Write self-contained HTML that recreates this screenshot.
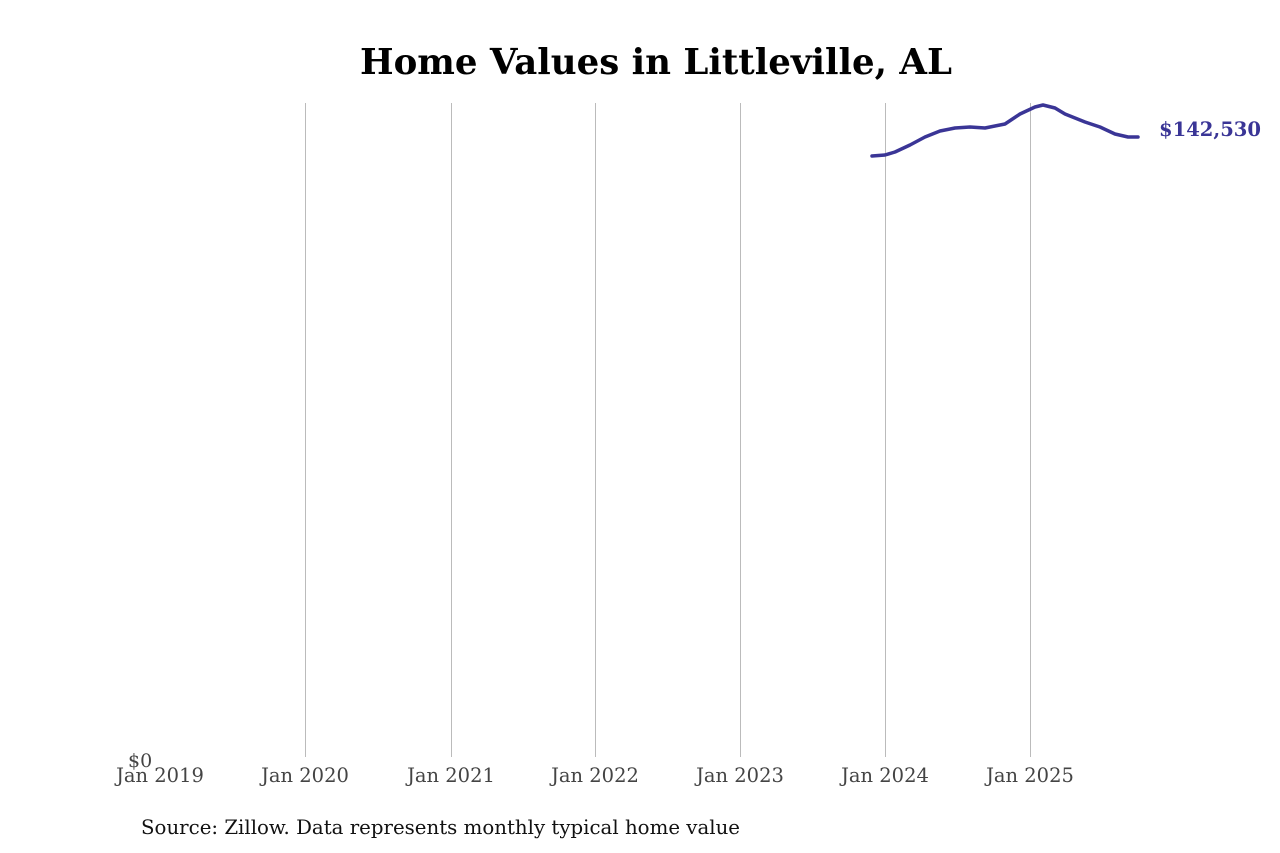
<!DOCTYPE html>
<html><head><meta charset="utf-8"><style>
body{margin:0;background:#fff;}
svg{display:block;}
</style></head><body>
<svg width="1280" height="853" xmlns="http://www.w3.org/2000/svg" font-family="DejaVu Serif, Liberation Serif, serif">
<text x="656" y="74" text-anchor="middle" font-size="35.5" font-weight="bold" fill="#000" textLength="592" lengthAdjust="spacingAndGlyphs">Home Values in Littleville, AL</text>
<g stroke="#bbb" stroke-width="1">
<line x1="305.5" y1="103" x2="305.5" y2="757"/>
<line x1="451.5" y1="103" x2="451.5" y2="757"/>
<line x1="595.5" y1="103" x2="595.5" y2="757"/>
<line x1="740.5" y1="103" x2="740.5" y2="757"/>
<line x1="885.5" y1="103" x2="885.5" y2="757"/>
<line x1="1030.5" y1="103" x2="1030.5" y2="757"/>
</g>
<g font-size="19.5" fill="#444" text-anchor="middle">
<text x="160" y="782">Jan 2019</text>
<text x="305" y="782">Jan 2020</text>
<text x="451" y="782">Jan 2021</text>
<text x="595" y="782">Jan 2022</text>
<text x="740" y="782">Jan 2023</text>
<text x="885" y="782">Jan 2024</text>
<text x="1030" y="782">Jan 2025</text>
</g>
<text x="128" y="767" font-size="19" fill="#444">$0</text>
<path d="M872,156 L885,155 L895,152 L910,145 L925,137 L940,131 L955,128 L970,127 L985,128 L1005,124 L1020,114 L1035,107 L1043,105 L1055,108 L1065,114 L1085,122 L1100,127 L1115,134 L1128,137 L1138,137" fill="none" stroke="#3a3596" stroke-width="3.5" stroke-linejoin="round" stroke-linecap="round"/>
<text x="1159" y="136" font-size="19.5" font-weight="bold" fill="#3a3596" textLength="102" lengthAdjust="spacingAndGlyphs">$142,530</text>
<text x="141" y="834" font-size="19.5" fill="#111" textLength="599" lengthAdjust="spacingAndGlyphs">Source: Zillow. Data represents monthly typical home value</text>
</svg>
</body></html>
